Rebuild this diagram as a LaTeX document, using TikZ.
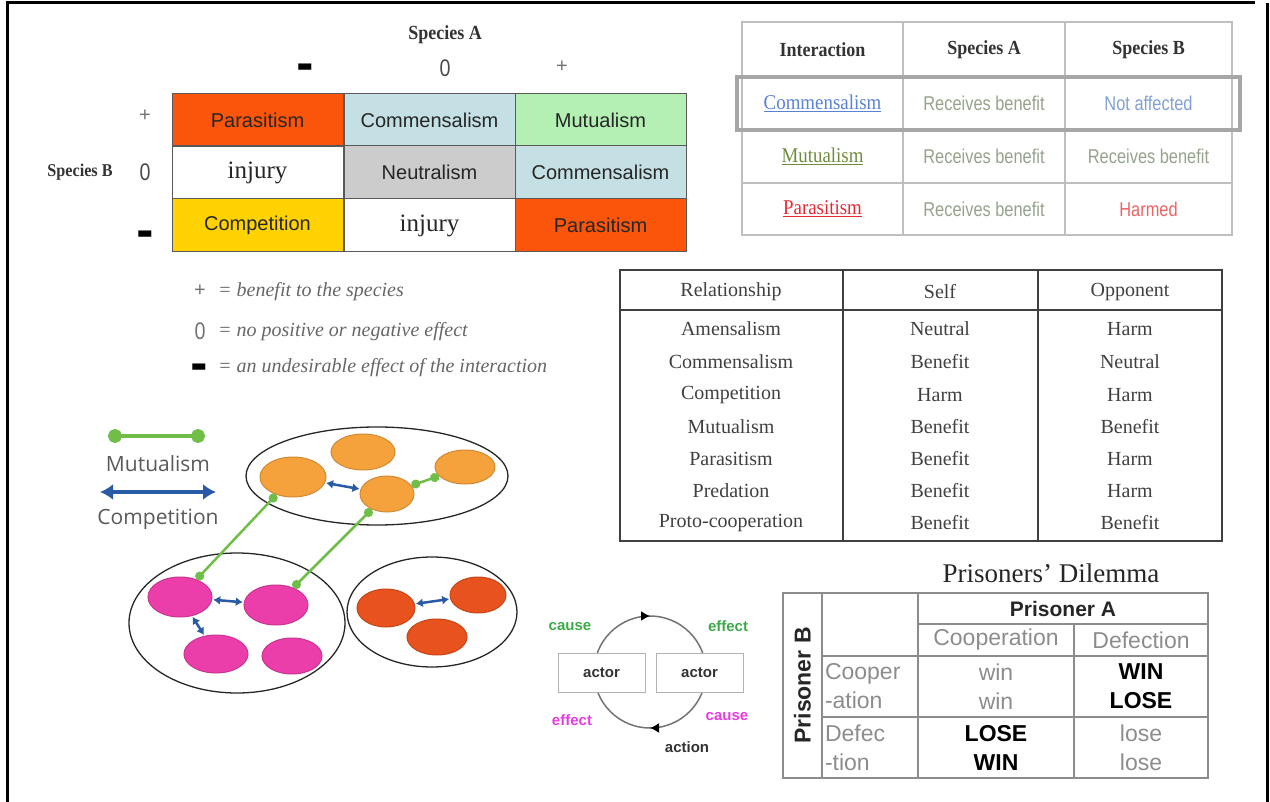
\documentclass[tikz,border=0pt]{standalone}
\usepackage{fontspec}
\setmainfont{Liberation Serif}
\setsansfont{Liberation Sans}
\newfontfamily\condserif[FakeStretch=0.9]{Liberation Serif}
\newfontfamily\condsans[FakeStretch=0.82]{Liberation Sans}
\newfontfamily\legendfont{Open Sans}
\newfontfamily\symfont{DejaVu Sans}
\usetikzlibrary{arrows.meta,shapes.geometric,decorations.markings}
\newcommand\fsz[1]{\fontsize{#1}{#1}\selectfont}
\newcommand\bardash{{\symfont\fsz{17}▬}}
\definecolor{parasite}{RGB}{250,85,10}
\definecolor{commens}{RGB}{197,224,228}
\definecolor{mutual}{RGB}{180,240,180}
\definecolor{neutral}{RGB}{204,204,204}
\definecolor{compet}{RGB}{255,210,0}
\definecolor{linkblue}{RGB}{90,130,210}
\definecolor{linkolive}{RGB}{110,140,60}
\definecolor{linkred}{RGB}{230,40,50}
\definecolor{softgreen}{RGB}{150,162,140}
\definecolor{softblue}{RGB}{130,160,210}
\definecolor{softred}{RGB}{235,100,100}
\definecolor{spotA}{RGB}{245,162,60}
\definecolor{spotB}{RGB}{236,62,170}
\definecolor{spotC}{RGB}{232,82,30}
\definecolor{mutline}{RGB}{112,190,72}
\definecolor{compline}{RGB}{40,90,165}
\definecolor{causegreen}{RGB}{60,170,70}
\definecolor{causepink}{RGB}{230,60,220}
\tikzset{
  cell/.style={draw=black!65, line width=1, minimum width=171, minimum height=53,
    inner sep=0, font=\sffamily\fsz{20}, text=black!85},
  tcell/.style={draw=black!25, line width=1.2, minimum height=53, inner sep=0,
    font=\condsans\fsz{20}},
  relrow/.style={font=\fsz{20}, text=black!75},
  spot/.style={ellipse, draw, line width=1, inner sep=0},
  group/.style={ellipse, draw=black!85, line width=1.3, inner sep=0},
  mutlink/.style={draw=mutline, line width=2.5, {Circle[length=9]}-{Circle[length=9]}},
  complink/.style={draw=compline, line width=2.5, {Latex[length=7,width=9]}-{Latex[length=7,width=9]},
    shorten >=1, shorten <=1},
  actorbox/.style={draw=black!30, line width=1, fill=white, minimum width=87,
    minimum height=39, inner sep=0, font=\sffamily\bfseries\fsz{15}, text=black!80},
  pdcell/.style={draw=black!45, line width=1.5, inner sep=2, font=\sffamily\fontsize{23}{29}\selectfont,
    text=black!45}
}
\begin{document}
\begin{tikzpicture}[x=1pt,y=-1pt]
  \useasboundingbox (0,0) rectangle (1270,802);
  % frame
  \draw[line width=3] (7,802) -- (7,3) -- (1255,3);
  \draw[line width=3] (1267,3) -- (1267,802);

  % interaction matrix
  \node[font=\condserif\bfseries\fsz{20}, text=black!80] (spa) at (445,35) {Species A};
  \node[inner sep=0] (mA) at (305,68) {\bardash};
  \node[font=\condsans\fsz{24}, text=black!70] (zA) at (445,68) {0};
  \node[font=\sffamily\fsz{20}, text=black!55] (pA) at (562,67) {+};
  \node[font=\condserif\bfseries\fsz{18}, text=black!80] (spb) at (80,172) {Species B};
  \node[font=\sffamily\fsz{20}, text=black!55] (pB) at (145,116) {+};
  \node[font=\condsans\fsz{24}, text=black!70] (zB) at (145,172) {0};
  \node[inner sep=0] (mB) at (145,235) {\bardash};
  \node[cell, fill=parasite] (c11) at (257.5,120) {Parasitism};
  \node[cell, fill=commens] (c12) at (429.5,120) {Commensalism};
  \node[cell, fill=mutual] (c13) at (600.5,120) {Mutualism};
  \node[cell, font=\fsz{25}] (c21) at (257.5,172.5) {injury};
  \node[cell, fill=neutral] (c22) at (429.5,172.5) {Neutralism};
  \node[cell, fill=commens] (c23) at (600.5,172.5) {Commensalism};
  \node[cell, fill=compet] (c31) at (257.5,225.5) {Competition};
  \node[cell, font=\fsz{25}] (c32) at (429.5,225.5) {injury};
  \node[cell, fill=parasite] (c33) at (600.5,225.5) {Parasitism};

  % key
  \node[inner sep=1, font=\sffamily\fsz{20}, text=black!55] (kp) at (200,291) {+};
  \node[inner sep=1, font=\condsans\fsz{24}, text=black!55] (kz) at (200,331) {0};
  \node[inner sep=0] (km) at (199,368) {\bardash};
  \node[anchor=west, inner sep=1, font=\itshape\fsz{20}, text=black!60] (kpt) at (217,292) {= benefit to the species};
  \node[anchor=west, inner sep=1, font=\itshape\fsz{20}, text=black!60] (kzt) at (217,332) {= no positive or negative effect};
  \node[anchor=west, inner sep=1, font=\itshape\fsz{20}, text=black!60] (kmt) at (217,368) {= an undesirable effect of the interaction};

  % interaction table
  \node[tcell, minimum width=161, minimum height=55, font=\condserif\bfseries\fsz{20}, text=black!80] (h1) at (822.5,49.5) {Interaction};
  \node[tcell, minimum width=162, minimum height=55, font=\condserif\bfseries\fsz{20}, text=black!80] (h2) at (984,49.5) {Species A};
  \node[tcell, minimum width=167, minimum height=55, font=\condserif\bfseries\fsz{20}, text=black!80] (h3) at (1148.5,49.5) {Species B};
  \node[tcell, minimum width=161, font=\condserif\fsz{21}, text=linkblue] (r11) at (822.5,103.5) {\underline{Commensalism}};
  \node[tcell, minimum width=162, text=softgreen] (r12) at (984,103.5) {Receives benefit};
  \node[tcell, minimum width=167, text=softblue] (r13) at (1148.5,103.5) {Not affected};
  \node[tcell, minimum width=161, font=\condserif\fsz{21}, text=linkolive] (r21) at (822.5,156.5) {\underline{Mutualism}};
  \node[tcell, minimum width=162, text=softgreen] (r22) at (984,156.5) {Receives benefit};
  \node[tcell, minimum width=167, text=softgreen] (r23) at (1148.5,156.5) {Receives benefit};
  \node[tcell, minimum width=161, minimum height=52, font=\condserif\fsz{21}, text=linkred] (r31) at (822.5,209) {\underline{Parasitism}};
  \node[tcell, minimum width=162, minimum height=52, text=softgreen] (r32) at (984,209) {Receives benefit};
  \node[tcell, minimum width=167, minimum height=52, text=softred] (r33) at (1148.5,209) {Harmed};
  \draw[draw=black!35, line width=4] (737,77) rectangle (1240,130);

  % relationship table
  \draw[draw=black!75, line width=2] (620,270) rectangle (1222,541);
  \draw[draw=black!75, line width=1.5] (620,310) -- (1222,310);
  \draw[draw=black!75, line width=1.5] (843,270) -- (843,541);
  \draw[draw=black!75, line width=1.5] (1038,270) -- (1038,541);
  \node[relrow] (rh1) at (731,292) {Relationship};
  \node[relrow] (rh2) at (940,292) {Self};
  \node[relrow] (rh3) at (1130,292) {Opponent};
  \node[relrow] (a1) at (731,329) {Amensalism};
  \node[relrow] (a2) at (940,329) {Neutral};
  \node[relrow] (a3) at (1130,329) {Harm};
  \node[relrow] (b1) at (731,362) {Commensalism};
  \node[relrow] (b2) at (940,362) {Benefit};
  \node[relrow] (b3) at (1130,362) {Neutral};
  \node[relrow] (d1) at (731,395) {Competition};
  \node[relrow] (d2) at (940,395) {Harm};
  \node[relrow] (d3) at (1130,395) {Harm};
  \node[relrow] (e1) at (731,427) {Mutualism};
  \node[relrow] (e2) at (940,427) {Benefit};
  \node[relrow] (e3) at (1130,427) {Benefit};
  \node[relrow] (f1) at (731,459) {Parasitism};
  \node[relrow] (f2) at (940,459) {Benefit};
  \node[relrow] (f3) at (1130,459) {Harm};
  \node[relrow] (g1) at (731,491) {Predation};
  \node[relrow] (g2) at (940,491) {Benefit};
  \node[relrow] (g3) at (1130,491) {Harm};
  \node[relrow] (k1) at (731,523) {Proto-cooperation};
  \node[relrow] (k2) at (940,523) {Benefit};
  \node[relrow] (k3) at (1130,523) {Benefit};

  % network legend
  \coordinate (ml) at (108,436);
  \coordinate (mr) at (205,436);
  \draw[draw=mutline, line width=4, {Circle[length=14]}-{Circle[length=14]}] (ml) -- (mr);
  \node[font=\legendfont\fsz{21}, text=black!65] (mt) at (158,464) {Mutualism};
  \coordinate (cl) at (100,492);
  \coordinate (cr) at (216,492);
  \draw[draw=compline, line width=4, {Latex[length=13,width=16]}-{Latex[length=13,width=16]}] (cl) -- (cr);
  \node[font=\legendfont\fsz{21}, text=black!65] (ct) at (158,519) {Competition};

  % network
  \node[group, minimum width=262, minimum height=98] (gA) at (377,476) {};
  \node[group, minimum width=216, minimum height=140] (gB) at (237,623) {};
  \node[group, minimum width=170, minimum height=110] (gC) at (432,612) {};
  \node[spot, fill=spotA, draw=spotA!85!black, minimum width=66, minimum height=40] (sa1) at (293,477) {};
  \node[spot, fill=spotA, draw=spotA!85!black, minimum width=64, minimum height=36] (sa2) at (363,452) {};
  \node[spot, fill=spotA, draw=spotA!85!black, minimum width=60, minimum height=34] (sa3) at (465,467) {};
  \node[spot, fill=spotA, draw=spotA!85!black, minimum width=54, minimum height=36] (sa4) at (387,494) {};
  \node[spot, fill=spotB, draw=spotB!85!black, minimum width=64, minimum height=40] (sb1) at (180,597) {};
  \node[spot, fill=spotB, draw=spotB!85!black, minimum width=64, minimum height=40] (sb2) at (276,605) {};
  \node[spot, fill=spotB, draw=spotB!85!black, minimum width=64, minimum height=38] (sb3) at (216,654) {};
  \node[spot, fill=spotB, draw=spotB!85!black, minimum width=60, minimum height=36] (sb4) at (292,656) {};
  \node[spot, fill=spotC, draw=spotC!85!black, minimum width=58, minimum height=38] (sc1) at (386,608) {};
  \node[spot, fill=spotC, draw=spotC!85!black, minimum width=56, minimum height=36] (sc2) at (478,595) {};
  \node[spot, fill=spotC, draw=spotC!85!black, minimum width=60, minimum height=36] (sc3) at (437,637) {};
  \draw[mutlink] (sa4) -- (sa3);
  \draw[mutlink] (sa1) -- (sb1);
  \draw[mutlink] (sa4) -- (sb2);
  \draw[complink] (sa1) -- (sa4);
  \draw[complink] (sb1) -- (sb2);
  \draw[complink] (sb1) -- (sb3);
  \draw[complink] (sc1) -- (sc2);

  % cause and effect loop
  \coordinate (loop) at (650,672);
  \draw[draw=black!55, line width=1.5, postaction={decorate},
    decoration={markings,
      mark=at position 0.25 with {\arrow[black]{Latex[length=9,width=10]}},
      mark=at position 0.75 with {\arrow[black]{Latex[length=9,width=10]}}}]
    (loop) circle[radius=56];
  \node[actorbox] (act1) at (601.5,672.5) {actor};
  \node[actorbox] (act2) at (699.5,672.5) {actor};
  \node[font=\sffamily\bfseries\fsz{15}, text=causegreen] (cz1) at (570,627) {cause};
  \node[font=\sffamily\bfseries\fsz{15}, text=causegreen] (ef1) at (728,626) {effect};
  \node[font=\sffamily\bfseries\fsz{15}, text=causepink] (ef2) at (572,720) {effect};
  \node[font=\sffamily\bfseries\fsz{15}, text=causepink] (cz2) at (727,717) {cause};
  \node[font=\sffamily\bfseries\fsz{15}, text=black!80] (acn) at (687,747) {action};

  % prisoners' dilemma
  \node[font=\fsz{27}, text=black!85] (pdt) at (1051,573) {Prisoners’ Dilemma};
  \node[pdcell, minimum width=185, minimum height=39, rotate=90, font=\sffamily\bfseries\fsz{23}, text=black!85] (prb) at (802.5,685.5) {Prisoner B};
  \node[pdcell, minimum width=96, minimum height=63] (blank) at (870,624.5) {};
  \node[pdcell, minimum width=290, minimum height=31, font=\sffamily\bfseries\fsz{21}, text=black!85] (pra) at (1063,608.5) {Prisoner A};
  \node[pdcell, minimum width=156, minimum height=32] (coop) at (996,640) {Cooperation};
  \node[pdcell, minimum width=134, minimum height=32] (defe) at (1141,640) {Defection};
  \node[pdcell, minimum width=96, minimum height=61, text width=90, align=left] (rc) at (870,686.5) {Cooper\\-ation};
  \node[pdcell, minimum width=156, minimum height=61, align=center] (cc) at (996,686.5) {win\\win};
  \node[pdcell, minimum width=134, minimum height=61, align=center, text=black] (cd) at (1141,686.5) {\textbf{WIN}\\\textbf{LOSE}};
  \node[pdcell, minimum width=96, minimum height=61, text width=90, align=left] (rd) at (870,747.5) {Defec\\-tion};
  \node[pdcell, minimum width=156, minimum height=61, align=center, text=black] (dc) at (996,747.5) {\textbf{LOSE}\\\textbf{WIN}};
  \node[pdcell, minimum width=134, minimum height=61, align=center] (dd) at (1141,747.5) {lose\\lose};
\end{tikzpicture}
\end{document}
